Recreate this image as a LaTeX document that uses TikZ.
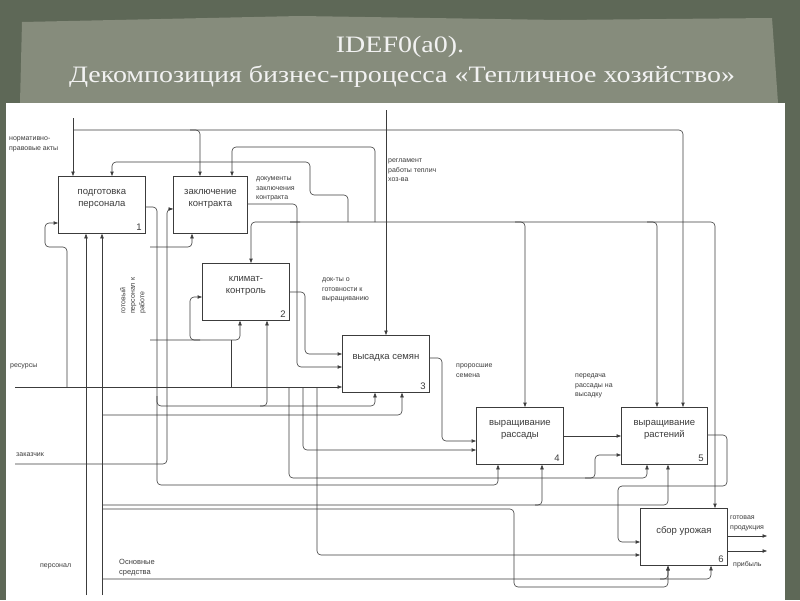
\documentclass[tikz,border=0pt]{standalone}
\usepackage{fontspec}
\setmainfont{Liberation Sans}
\newfontfamily\titlefont{Liberation Serif}
\usetikzlibrary{arrows.meta}
\definecolor{lc}{HTML}{3C3C3C}
\definecolor{bgdark}{HTML}{5E6857}
\definecolor{bglight}{HTML}{868C7C}
\tikzset{
  ln/.style={draw=lc, line width=0.6pt, rounded corners=4pt},
  ar/.style={ln, -{Triangle[length=4.5pt,width=3.4pt]}},
  box/.style={draw=lc, line width=0.8pt, fill=white, anchor=north west, inner sep=0pt},
  btxt/.style={text=lc, font=\fontsize{9.5}{12}\selectfont, align=center, inner sep=0pt},
  bnum/.style={text=lc, font=\fontsize{9.5}{11}\selectfont, anchor=south east, inner sep=0pt},
  lbl/.style={text=lc, font=\fontsize{7}{9.5}\selectfont, align=left, anchor=north west, inner sep=0pt},
  ttl/.style={text=white!95!black, font=\titlefont\fontsize{23.5}{26}\selectfont, xscale=1.19},
}
\begin{document}
\begin{tikzpicture}[x=1pt,y=-1pt]
\useasboundingbox (0,0) rectangle (800,600);
% background
\fill[bgdark] (0,0) rectangle (800,600);
\fill[bglight] (22,22) -- (300,16) -- (560,20) -- (772,18) -- (778,103) -- (20,103) -- cycle;
\fill[white] (6,103) rectangle (785,600);
% title
\node[ttl] (t1) at (400,47) {IDEF0(a0).};
\node[ttl] (t2) at (402,77) {Декомпозиция бизнес-процесса «Тепличное хозяйство»};

% boxes
\node[box, minimum width=87pt, minimum height=57pt] (b1) at (58,176) {};
\node[box, minimum width=74pt, minimum height=57pt] (b2) at (173,176) {};
\node[box, minimum width=87pt, minimum height=57pt] (b3) at (202,263) {};
\node[box, minimum width=87pt, minimum height=57pt] (b4) at (342,335) {};
\node[box, minimum width=87pt, minimum height=57pt] (b5) at (476,407) {};
\node[box, minimum width=86pt, minimum height=57pt] (b6) at (621,407) {};
\node[box, minimum width=87pt, minimum height=57pt] (b7) at (640,508) {};

\node[btxt] (b1t) at ([yshift=-22.5pt]b1.north) {подготовка\\персонала};
\node[btxt] (b2t) at ([yshift=-22.5pt]b2.north) {заключение\\контракта};
\node[btxt] (b3t) at ([yshift=-22.5pt]b3.north) {климат-\\контроль};
\node[btxt] (b4t) at ([yshift=-23pt]b4.north) {высадка семян};
\node[btxt] (b5t) at ([yshift=-23pt]b5.north) {выращивание\\рассады};
\node[btxt] (b6t) at ([yshift=-23pt]b6.north) {выращивание\\растений};
\node[btxt] (b7t) at ([yshift=-23pt]b7.north) {сбор урожая};

\node[bnum] (b1n) at ([xshift=-4pt,yshift=3pt]b1.south east) {1};
\node[bnum] (b3n) at ([xshift=-4pt,yshift=3pt]b3.south east) {2};
\node[bnum] (b4n) at ([xshift=-4pt,yshift=3pt]b4.south east) {3};
\node[bnum] (b5n) at ([xshift=-4pt,yshift=3pt]b5.south east) {4};
\node[bnum] (b6n) at ([xshift=-4pt,yshift=3pt]b6.south east) {5};
\node[bnum] (b7n) at ([xshift=-4pt,yshift=3pt]b7.south east) {6};

% labels
\node[lbl] (l1) at (9,137) {нормативно-\\правовые акты};
\node[lbl] (l2) at (256,177) {документы\\заключения\\контракта};
\node[lbl] (l3) at (388,159) {регламент\\работы теплич\\хоз-ва};
\node[lbl, rotate=90, anchor=north west] (l4) at (120,314) {готовый\\персонал к\\работе};
\node[lbl] (l5) at (322,278) {док-ты о\\готовности к\\выращиванию};
\node[lbl] (l6) at (10,364) {ресурсы};
\node[lbl] (l7) at (456,364) {проросшие\\семена};
\node[lbl] (l8) at (575,374) {передача\\рассады на\\высадку};
\node[lbl] (l9) at (16,453) {заказчик};
\node[lbl] (l10) at (40,564) {персонал};
\node[lbl, font=\fontsize{7.5}{10}\selectfont] (l11) at (119,559) {Основные\\средства};
\node[lbl] (l12) at (730,516) {готовая\\продукция};
\node[lbl] (l13) at (733,561) {прибыль};

% free ends
\coordinate (nra) at (73,118);
\coordinate (reg) at (386,110);
\coordinate (res) at (15,387);
\coordinate (zak) at (15,464);
\coordinate (pers) at (86,595);
\coordinate (osn) at (102,595);
\coordinate (gp) at (767,536);
\coordinate (prb) at (767,551);

% controls from top
\draw[ar] (nra) -- (nra |- b1.north);
\draw[ar] (73,130) -- (683,130) -- (683,0 |- b6.north);
\draw[ar] (190,130) -- (200,130) -- (200,0 |- b2.north);
\draw[ar] (reg) -- (reg |- b4.north);
\draw[ar] (375,222) -- (375,147) -- (232,147) -- (232,0 |- b2.north);
\draw[ar] (348,222) -- (348,195) -- (310,195) -- (310,162) -- (112,162) -- (112,0 |- b1.north);
% bus y=222
\draw[ar] (300,222) -- (251,222) -- (251,0 |- b3.north);
\draw[ar] (290,222) -- (715,222) -- (715,0 |- b7.north);
\draw[ar] (515,222) -- (525,222) -- (525,0 |- b5.north);
\draw[ar] (647,222) -- (657,222) -- (657,0 |- b6.north);

% outputs between boxes
\draw[ar] (b2.east |- 0,204) -- (297,204) -- (297,367) -- (b4.west |- 0,367);
\draw[ar] (b3.east |- 0,292) -- (305,292) -- (305,354) -- (b4.west |- 0,354);
\draw[ar] (b4.east |- 0,358) -- (442,358) -- (442,441) -- (b5.west |- 0,441);
\draw[ar] (b5.east |- 0,436) -- (b6.west |- 0,436);
\draw[ar] (b6.east |- 0,435) -- (727,435) -- (727,486) -- (618,486) -- (618,542) -- (b7.west |- 0,542);
\draw[ar] (b7.east |- gp) -- (gp);
\draw[ar] (b7.east |- prb) -- (prb);

% ресурсы
\draw[ar] (res) -- (b4.west |- res);
\draw[ar] (67,387) -- (67,247) -- (45,247) -- (45,223) -- (b1.west |- 0,223);
\draw[ln] (231,387) -- (231,340);
\draw[ar] (289,387) -- (289,478) -- (595,478) -- (595,455) -- (b6.west |- 0,455);
\draw[ar] (585,478) -- (647,478) -- (647,0 |- b6.south);
\draw[ar] (303,387) -- (303,450) -- (b5.west |- 0,450);
\draw[ar] (317,387) -- (317,555) -- (b7.west |- 0,555);

% готовый персонал (b1 output)
\draw[ar] (b1.east |- 0,207) -- (157,207) -- (157,485) -- (498,485) -- (498,0 |- b5.south);
\draw[ar] (150,247) -- (157,247) -- (192,247) -- (192,0 |- b2.south);
\draw[ar] (150,340) -- (240,340) -- (240,0 |- b3.south);
\draw[ar] (200,340) -- (190,340) -- (190,297) -- (b3.west |- 0,297);
\draw[ar] (157,396) -- (157,406) -- (267,406) -- (267,0 |- b3.south);
\draw[ar] (260,406) -- (375,406) -- (375,0 |- b4.south);

% основные средства
\draw[ar] (osn) -- (osn |- b1.south);
\draw[ar] (102,415) -- (402,415) -- (402,0 |- b4.south);
\draw[ar] (102,505) -- (542,505) -- (542,0 |- b5.south);
\draw[ar] (535,505) -- (668,505) -- (668,0 |- b6.south);
\draw[ar] (102,509) -- (514,509) -- (514,587) -- (668,587) -- (668,0 |- b7.south);
\draw[ar] (102,579) -- (668,579) -- (668,0 |- b7.south);
\draw[ar] (660,579) -- (711,579) -- (711,0 |- b7.south);

% персонал
\draw[ar] (pers) -- (pers |- b1.south);

% заказчик
\draw[ar] (zak) -- (167,464) -- (167,209) -- (b2.west |- 0,209);
\end{tikzpicture}
\end{document}
